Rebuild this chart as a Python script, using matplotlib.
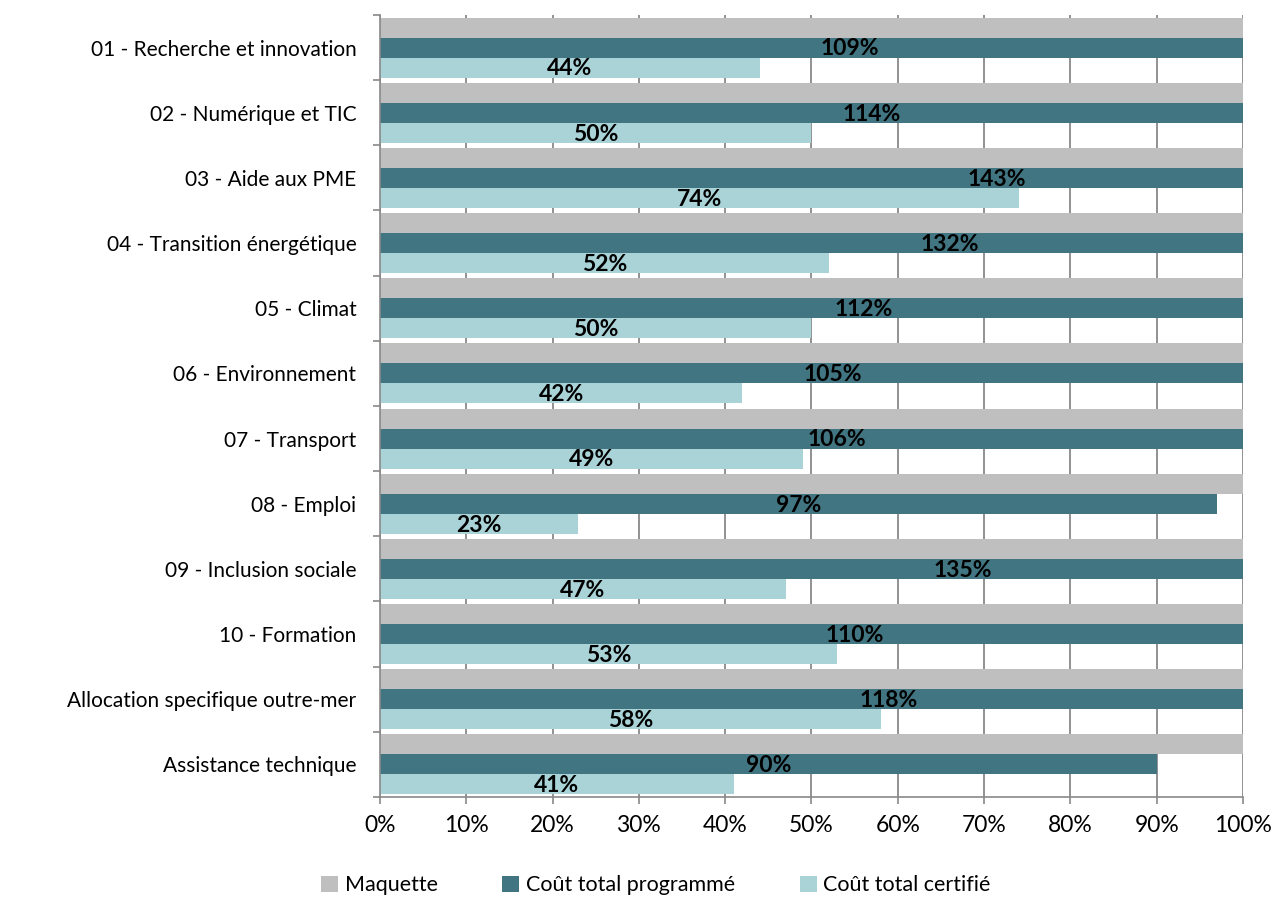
import numpy as np
import matplotlib.pyplot as plt
from matplotlib.ticker import FixedLocator, PercentFormatter

plt.rcParams['font.family'] = ['Lato', 'DejaVu Sans']

categories = ["01 - Recherche et innovation", "02 - Numérique et TIC", "03 - Aide aux PME",
              "04 - Transition énergétique", "05 - Climat", "06 - Environnement",
              "07 - Transport", "08 - Emploi", "09 - Inclusion sociale", "10 - Formation",
              "Allocation specifique outre-mer", "Assistance technique"]
maquette = [100, 100, 100, 100, 100, 100, 100, 100, 100, 100, 100, 100]
programme = [109, 114, 143, 132, 112, 105, 106, 97, 135, 110, 118, 90]
certifie = [44, 50, 74, 52, 50, 42, 49, 23, 47, 53, 58, 41]

c_maq = "#bfbfbf"
c_prog = "#417582"
c_cert = "#a9d3d7"

fig = plt.figure(figsize=(12.76, 8.98), dpi=100)
ax = fig.add_axes([0.2978, 0.1125, 0.9741 - 0.2978, 0.9833 - 0.1125])

n = len(categories)
y = np.arange(n)
h = 0.307

ax.barh(y - h, maquette, height=h, color=c_maq, label="Maquette", zorder=2)
ax.barh(y, programme, height=h, color=c_prog, label="Coût total programmé", zorder=2)
ax.barh(y + h, certifie, height=h, color=c_cert, label="Coût total certifié", zorder=2)

for i in range(n):
    ax.text(programme[i] / 2, y[i] + 0.02, f"{programme[i]}%", ha="center", va="center",
            fontsize=16.5, fontweight="bold", color="black", zorder=3)
    ax.text(certifie[i] / 2, y[i] + h + 0.02, f"{certifie[i]}%", ha="center", va="center",
            fontsize=16.5, fontweight="bold", color="black", zorder=3)

ax.set_xlim(0, 100)
ax.set_ylim(n - 0.5, -0.5)
ax.set_xticks(np.arange(0, 101, 10))
ax.xaxis.set_major_formatter(PercentFormatter(decimals=0))
ax.set_yticks(y)
ax.set_yticklabels(categories)
ax.yaxis.set_minor_locator(FixedLocator(np.arange(-0.5, n, 1)))
ax.tick_params(axis="y", which="major", length=0, labelsize=15, pad=17)
ax.tick_params(axis="y", which="minor", length=5, color="#898989", width=1.2)
ax.tick_params(axis="x", length=5, color="#898989", width=1.2, labelsize=16.5, pad=8)

ax.grid(axis="x", color="#898989", linewidth=1.3, zorder=0)
ax.set_axisbelow(True)
for s in ["top", "right"]:
    ax.spines[s].set_visible(False)
for s in ["left", "bottom"]:
    ax.spines[s].set_color("#898989")
    ax.spines[s].set_linewidth(1.2)

fig.legend(loc="center", bbox_to_anchor=(0.514, 0.014), ncol=3, frameon=False,
           fontsize=15.5, handlelength=0.8, handleheight=0.8, handletextpad=0.3,
           columnspacing=3.0)

fig.savefig("out.png", dpi=100)
